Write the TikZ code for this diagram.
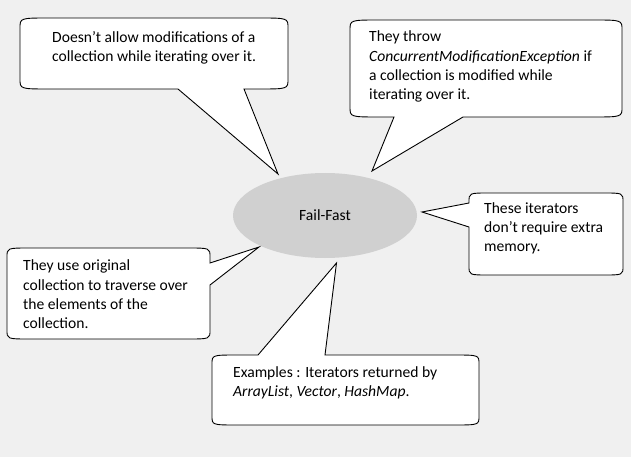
\documentclass[tikz,border=0pt]{standalone}
\usepackage{fontspec}
\setmainfont{Carlito}
\usetikzlibrary{shapes.geometric}
\definecolor{bggray}{HTML}{F0F0F0}
\definecolor{ellgray}{HTML}{D0D0D0}
\tikzset{
  callout/.style={draw=black, fill=white, line width=0.9pt, line join=miter},
  calltext/.style={anchor=north west, inner sep=0pt, align=left, font=\fontsize{15.6}{19.3}\selectfont},
}
\begin{document}
\begin{tikzpicture}[x=1pt, y=-1pt]
\useasboundingbox (0,0) rectangle (631,457);
\fill[bggray] (0,0) rectangle (631,457);
% central ellipse
\node[ellipse, fill=ellgray, minimum width=184pt, minimum height=85pt, inner sep=0pt,
      font=\fontsize{15.6}{19.3}\selectfont] (ff) at (325,215.5) {Fail-Fast};
% pointer tips
\coordinate (tip1) at (278,174);
\coordinate (tip2) at (372,171);
\coordinate (tip3) at (422,212);
\coordinate (tip4) at (259,247);
\coordinate (tip5) at (336.5,263);
% callout 1 (L20 T18 R288 B89)
\draw[callout] (50,18) -- (258,18) .. controls (288,18) .. (288,28) -- (288,79) .. controls (288,89) .. (258,89) -- (244,89) -- (tip1) -- (178,89) -- (50,89) .. controls (20,89) .. (20,79) -- (20,28) .. controls (20,18) .. (50,18) -- cycle;
% callout 2 (L350 T20 R622 B117)
\draw[callout] (380,20) -- (592,20) .. controls (622,20) .. (622,30) -- (622,107) .. controls (622,117) .. (592,117) -- (463,117) -- (tip2) -- (394,117) -- (380,117) .. controls (350,117) .. (350,107) -- (350,30) .. controls (350,20) .. (380,20) -- cycle;
% callout 3 (L469 T193 R623 B275)
\draw[callout] (489,193) -- (603,193) .. controls (623,193) .. (623,202) -- (623,266) .. controls (623,275) .. (603,275) -- (489,275) .. controls (469,275) .. (469,266) -- (469,227) -- (tip3) -- (469,203) -- (469,202) .. controls (469,193) .. (489,193) -- cycle;
% callout 4 (L7 T248 R210 B339)
\draw[callout] (30,248) -- (187,248) .. controls (210,248) .. (210,257) -- (210,263) -- (tip4) -- (210,285) -- (210,330) .. controls (210,339) .. (187,339) -- (30,339) .. controls (7,339) .. (7,330) -- (7,257) .. controls (7,248) .. (30,248) -- cycle;
% callout 5 (L212 T355 R479 B425)
\draw[callout] (238,355) -- (258,355) -- (tip5) -- (325,355) -- (453,355) .. controls (479,355) .. (479,364) -- (479,416) .. controls (479,425) .. (453,425) -- (238,425) .. controls (212,425) .. (212,416) -- (212,364) .. controls (212,355) .. (238,355) -- cycle;
% texts
\node[calltext] (t1) at (52,31.0) {Doesn’t allow modifications of a\\collection while iterating over it.};
\node[calltext] (t2) at (369,30.7) {They throw\\\textit{ConcurrentModificationException} if\\a collection is modified while\\iterating over it.};
\node[calltext] (t3) at (484,202.3) {These iterators\\don’t require extra\\memory.};
\node[calltext] (t4) at (23,259.7) {They use original\\collection to traverse over\\the elements of the\\collection.};
\node[calltext] (t5) at (233,366.3) {Examples : Iterators returned by\\\textit{ArrayList}, \textit{Vector}, \textit{HashMap}.};
\end{tikzpicture}
\end{document}
